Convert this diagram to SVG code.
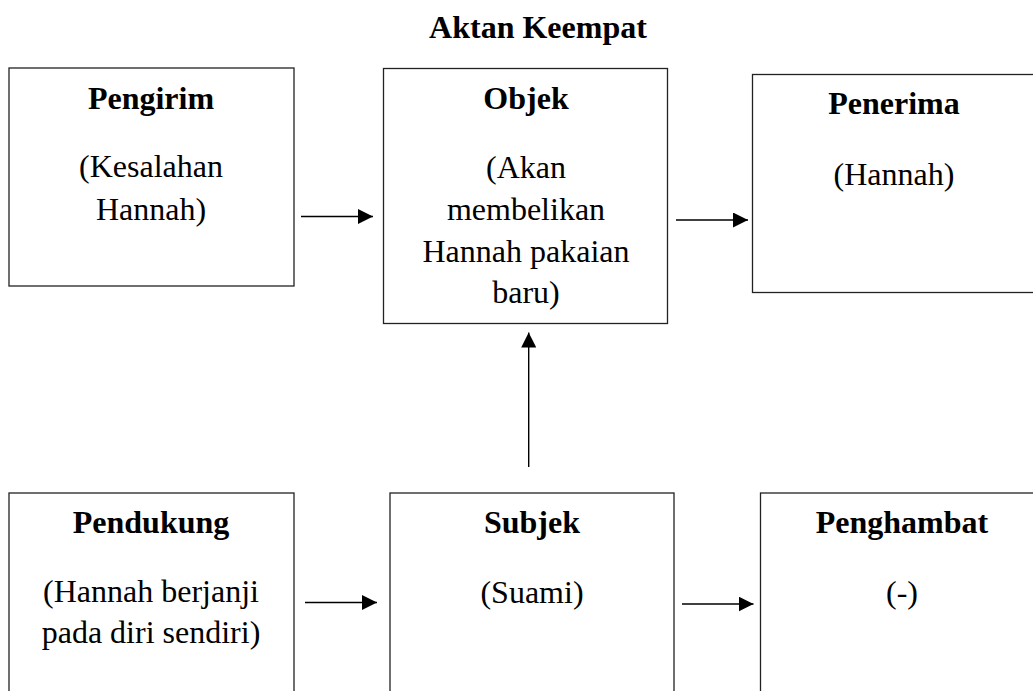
<svg xmlns="http://www.w3.org/2000/svg" width="1033" height="691" viewBox="0 0 1033 691">
  <style>
    .box { fill: #ffffff; stroke: #222222; stroke-width: 1.3; }
    text { font-family: "Liberation Serif", "Tinos", "Times New Roman", "Nimbus Roman", "Noto Serif", "DejaVu Serif", "FreeSerif", serif; font-size: 32px; fill: #000000; text-anchor: middle; }
    .b { font-weight: bold; }
    .conn { stroke: #000000; stroke-width: 1.4; fill: none; marker-end: url(#arrow); }
  </style>
  <defs>
    <marker id="arrow" markerUnits="userSpaceOnUse" markerWidth="15" markerHeight="15" refX="15" refY="7.5" orient="auto" viewBox="0 0 15 15">
      <path d="M0,0 L15,7.5 L0,15 Z" fill="#000000"/>
    </marker>
  </defs>
  <rect width="1033" height="691" fill="#ffffff"/>
  <text id="title" class="b" x="538" y="38">Aktan Keempat</text>

  <g id="pengirim">
    <rect class="box" x="9" y="68" width="285" height="218"/>
    <text class="b" x="151" y="109">Pengirim</text>
    <text x="151" y="177">(Kesalahan</text>
    <text x="151" y="220">Hannah)</text>
  </g>

  <g id="objek">
    <rect class="box" x="383.5" y="68.5" width="284" height="255"/>
    <text class="b" x="526" y="109">Objek</text>
    <text x="526" y="178">(Akan</text>
    <text x="526" y="220">membelikan</text>
    <text x="526" y="262">Hannah pakaian</text>
    <text x="526" y="303">baru)</text>
  </g>

  <g id="penerima">
    <rect class="box" x="752.5" y="74.5" width="285" height="218"/>
    <text class="b" x="894" y="114">Penerima</text>
    <text x="894" y="185">(Hannah)</text>
  </g>

  <g id="pendukung">
    <rect class="box" x="9" y="493" width="285" height="220"/>
    <text class="b" x="151" y="533">Pendukung</text>
    <text x="151" y="602">(Hannah berjanji</text>
    <text x="151" y="643">pada diri sendiri)</text>
  </g>

  <g id="subjek">
    <rect class="box" x="390" y="493" width="284" height="220"/>
    <text class="b" x="532" y="533">Subjek</text>
    <text x="532" y="603">(Suami)</text>
  </g>

  <g id="penghambat">
    <rect class="box" x="760.5" y="493" width="284" height="220"/>
    <text class="b" x="902" y="533">Penghambat</text>
    <text x="902" y="603">(-)</text>
  </g>

  <g id="connectors">
    <line class="conn" x1="301" y1="216.5" x2="373" y2="216.5"/>
    <line class="conn" x1="676" y1="220" x2="748" y2="220"/>
    <line class="conn" x1="528.7" y1="467" x2="528.7" y2="332.5"/>
    <line class="conn" x1="305" y1="602.5" x2="377" y2="602.5"/>
    <line class="conn" x1="682" y1="604" x2="753.5" y2="604"/>
  </g>
</svg>
